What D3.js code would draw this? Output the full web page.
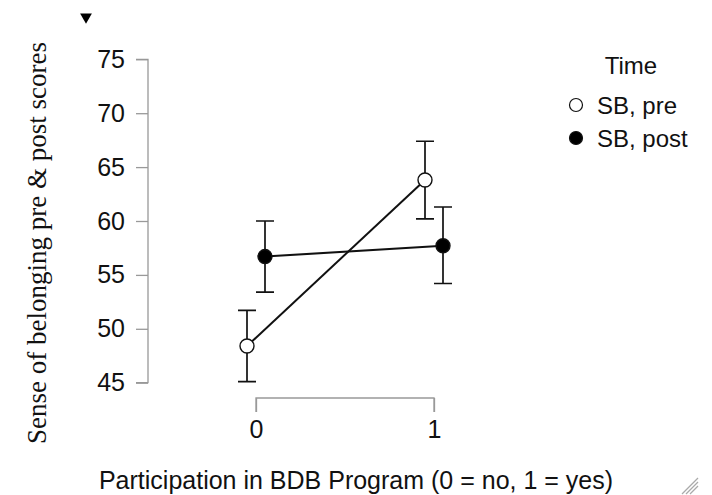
<!DOCTYPE html>
<html>
<head>
<meta charset="utf-8">
<script src="https://cdn.jsdelivr.net/npm/d3@7/dist/d3.min.js"></script>
<style>
  html, body { margin: 0; padding: 0; background: #fff; }
  svg { display: block; }
</style>
</head>
<body>
<div id="chart"></div>
<script>
// Group levels on the x axis
const groups = [0, 1];
const groupLabels = ["0", "1"];

// Mean sense-of-belonging scores per group
const preMeans = [48.4, 63.8];
const postMeans = [56.7, 57.7];

// Confidence interval bounds (lower, upper)
const preLower = [45.1, 60.2];
const preUpper = [51.7, 67.4];
const postLower = [53.4, 54.2];
const postUpper = [60.0, 61.3];

// Axis ticks
const yTicks = [45, 50, 55, 60, 65, 70, 75];

const seriesNames = ["SB, pre", "SB, post"];

const W = 712, H = 495;
const svg = d3.select("#chart").append("svg")
  .attr("width", W).attr("height", H);

const axisGray = "#999";
const sans = "Arial, 'Liberation Sans', sans-serif";
const serif = "'Times New Roman', 'Liberation Serif', serif";

const x = d3.scaleLinear().domain([0, 1]).range([256, 434]);
const y = d3.scaleLinear().domain([45, 75]).range([382.7, 59.3]);
const dodge = 9;

// Y axis
const yAxis = d3.axisLeft(y).tickValues(yTicks).tickSize(12).tickPadding(11)
  .tickFormat(d3.format("d"));
const gy = svg.append("g").attr("transform", "translate(148,0)").call(yAxis);
gy.select(".domain").attr("stroke", axisGray).attr("stroke-width", 1.3)
  .attr("d", `M-12,${y(75)}H0V${y(45)}H-12`);
gy.selectAll(".tick line").attr("stroke", axisGray).attr("stroke-width", 1.3);
gy.selectAll(".tick text").attr("fill", "#111").style("font-family", sans).style("font-size", "25px");

// X axis (bracket style, ticks downward)
const xAxis = d3.axisBottom(x).tickValues(groups).tickSize(14).tickPadding(8)
  .tickFormat((d, i) => groupLabels[i]);
const gx = svg.append("g").attr("transform", "translate(0,398)").call(xAxis);
gx.select(".domain").attr("stroke", axisGray).attr("stroke-width", 1.3)
  .attr("d", `M${x(0)},14V0H${x(1)}V14`);
gx.selectAll(".tick line").attr("stroke", axisGray).attr("stroke-width", 1.3);
gx.selectAll(".tick text").attr("fill", "#111").style("font-family", sans).style("font-size", "25px");

// Axis titles
svg.append("text")
  .attr("x", 356).attr("y", 489)
  .attr("text-anchor", "middle")
  .style("font-family", sans).style("font-size", "25px").attr("fill", "#111")
  .text("Participation in BDB Program (0 = no, 1 = yes)");

svg.append("text")
  .attr("transform", "translate(46,243) rotate(-90)")
  .attr("text-anchor", "middle")
  .style("font-family", serif).style("font-size", "27px").attr("fill", "#111")
  .text("Sense of belonging pre & post scores");

// Small marker triangle above the y axis
svg.append("path")
  .attr("d", d3.symbol().type(d3.symbolTriangle).size(60))
  .attr("transform", "translate(86,17) rotate(180)")
  .attr("fill", "#000");

// Data series
const series = [
  { name: seriesNames[0], means: preMeans, lo: preLower, hi: preUpper, off: -dodge, fill: "#fff" },
  { name: seriesNames[1], means: postMeans, lo: postLower, hi: postUpper, off: dodge, fill: "#000" }
];

const line = d3.line().x(d => d.x).y(d => d.y);
const cap = 9;

series.forEach(s => {
  const pts = groups.map((g, i) => ({ x: x(g) + s.off, y: y(s.means[i]), lo: y(s.lo[i]), hi: y(s.hi[i]) }));
  const g = svg.append("g");
  // error bars
  pts.forEach(p => {
    g.append("path")
      .attr("d", `M${p.x},${p.hi}V${p.lo}M${p.x - cap},${p.hi}H${p.x + cap}M${p.x - cap},${p.lo}H${p.x + cap}`)
      .attr("stroke", "#111").attr("stroke-width", 1.7).attr("fill", "none");
  });
  // connecting line
  g.append("path").attr("d", line(pts))
    .attr("stroke", "#111").attr("stroke-width", 2).attr("fill", "none");
  s.pts = pts;
});

series.forEach(s => {
  svg.append("g").selectAll("circle").data(s.pts).join("circle")
    .attr("cx", d => d.x).attr("cy", d => d.y).attr("r", 7)
    .attr("fill", s.fill).attr("stroke", "#111").attr("stroke-width", 1.4);
});

// Legend
const leg = svg.append("g");
leg.append("text").attr("x", 631).attr("y", 74).attr("text-anchor", "middle")
  .style("font-family", sans).style("font-size", "24px").attr("fill", "#111").text("Time");
series.forEach((s, i) => {
  const cy = 105 + i * 33;
  leg.append("circle").attr("cx", 576).attr("cy", cy).attr("r", 6.5)
    .attr("fill", s.fill).attr("stroke", "#111").attr("stroke-width", 1.2);
  leg.append("text").attr("x", 597).attr("y", cy + 8.5)
    .style("font-family", sans).style("font-size", "24px").attr("fill", "#111").text(s.name);
});

// Corner grip
const grip = svg.append("g").attr("stroke", "#aaa").attr("stroke-width", 1.2);
[0, 4, 8].forEach(o => {
  grip.append("line").attr("x1", 682 + o).attr("y1", 494).attr("x2", 698).attr("y2", 478 + o);
});
</script>
</body>
</html>
